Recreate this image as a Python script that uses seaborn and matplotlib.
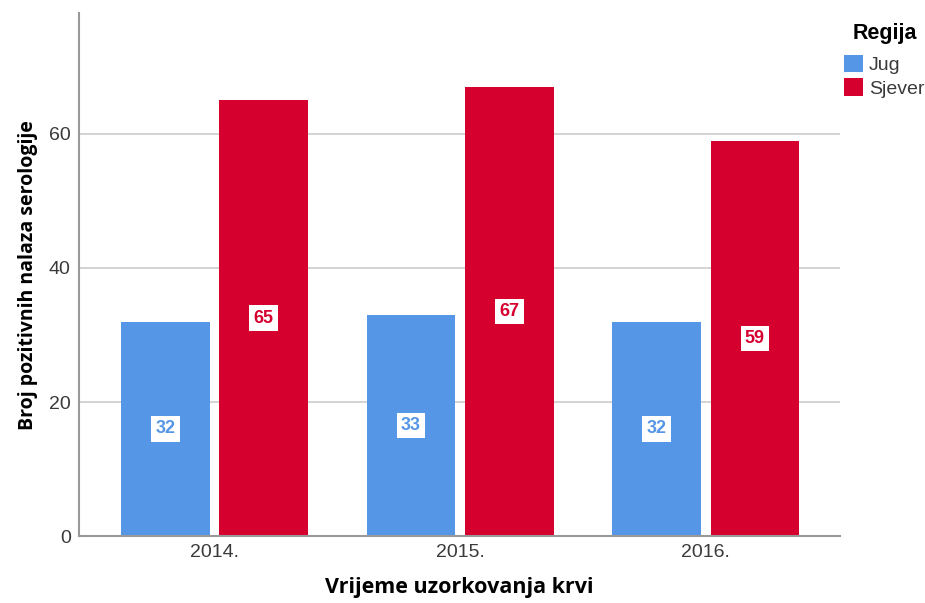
import matplotlib
matplotlib.use("Agg")
import matplotlib.pyplot as plt
import seaborn as sns
import pandas as pd
from matplotlib.patches import Patch

years = ["2014.", "2015.", "2016."]
regions = ["Jug", "Sjever"]
jug = [32, 33, 32]
sjever = [65, 67, 59]
colors = ["#5596e6", "#d6002f"]

df = pd.DataFrame({
    "year": years * 2,
    "region": [regions[0]] * 3 + [regions[1]] * 3,
    "value": jug + sjever,
})

sns.set_theme(style="white")
plt.rcParams["font.family"] = ["Liberation Sans", "DejaVu Sans"]

fig = plt.figure(figsize=(9.25, 6.03), dpi=100)
ax = fig.add_axes([0.0854, 0.111, 0.8226, 0.867])

sns.barplot(data=df, x="year", y="value", hue="region", palette=colors,
            width=0.8, gap=0.1, ax=ax, legend=False, saturation=1,
            linewidth=0)

for cont, col in zip(ax.containers, colors):
    for bar in cont:
        h = bar.get_height()
        ax.text(bar.get_x() + bar.get_width() / 2, h / 2, f"{int(h)}",
                ha="center", va="center", fontsize=13, fontweight="bold",
                color=col,
                bbox=dict(boxstyle="square,pad=0.24", fc="white", ec="none"))

ax.set_ylim(0, 78)
ax.set_xlim(-0.552, 2.546)
ax.set_yticks([0, 20, 40, 60])
ax.yaxis.grid(True, color="#cccccc", linewidth=1.2)
ax.set_axisbelow(True)
for s in ["top", "right"]:
    ax.spines[s].set_visible(False)
for s in ["left", "bottom"]:
    ax.spines[s].set_color("#999999")
    ax.spines[s].set_linewidth(1.5)
ax.tick_params(axis="both", length=0, labelsize=14, labelcolor="#3a3a3a", pad=6)
ax.set_xlabel("Vrijeme uzorkovanja krvi", fontsize=15.5, fontweight="bold",
              color="black", labelpad=11, family=["Open Sans", "DejaVu Sans"])
ax.set_ylabel("Broj pozitivnih nalaza serologije", fontsize=14,
              fontweight="bold", color="black", labelpad=8,
              family=["Open Sans", "DejaVu Sans"])

fig.text(0.957, 1 - 34 / 603, "Regija", ha="center", va="center",
         fontsize=15.5, fontweight="bold", color="black")

handles = [Patch(facecolor=c, edgecolor="none") for c in colors]
leg = fig.legend(handles, regions, loc="upper left",
                 bbox_to_anchor=(0.912, 1 - 55 / 603), frameon=False, fontsize=14,
                 handlelength=1.0, handleheight=1.0, handletextpad=0.3,
                 labelspacing=0.2, borderaxespad=0, borderpad=0)
for t in leg.get_texts():
    t.set_color("#3a3a3a")

fig.savefig("out.png", dpi=100)
